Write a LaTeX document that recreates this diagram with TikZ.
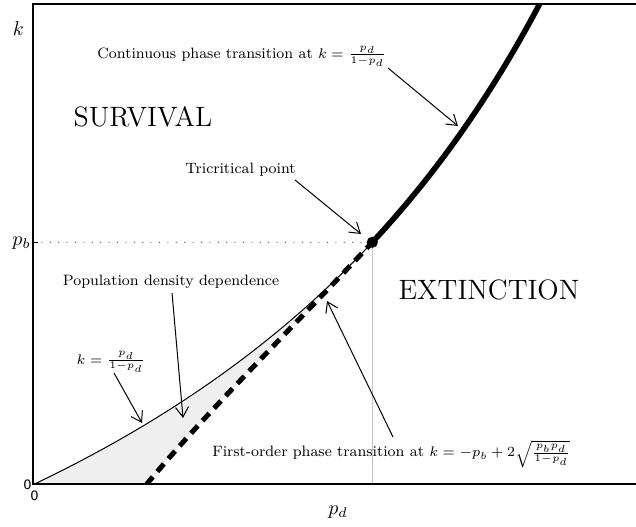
\documentclass[tikz,border=0pt]{standalone}
\usepackage{amsmath}
\usepackage{fontspec}
\newfontfamily\ticksans{DejaVu Sans}
\usepackage{tikz}
\usetikzlibrary{arrows.meta}
\definecolor{cFill}{HTML}{EFEFEF}
\definecolor{cGrid}{HTML}{C4C4C4}
\definecolor{cDot}{HTML}{444444}
\tikzset{
  spine/.style={line width=1pt},
  ann/.style={font=\fontsize{7.5}{9}\selectfont,inner sep=0pt},
  region/.style={font=\fontsize{14}{16.8}\selectfont,inner sep=0pt},
  axlbl/.style={font=\fontsize{10}{12}\selectfont,inner sep=0pt},
  ticklbl/.style={font=\ticksans\fontsize{6.5}{7.8}\selectfont,inner sep=0pt},
  pointer/.style={-{Straight Barb[length=5pt,width=6.5pt]},line width=0.5pt},
  contline/.style={line width=2.8pt},
  foline/.style={line width=2.5pt,dash pattern=on 5pt off 3.5pt},
  declare function={kc(\x)=\x/(1-\x); kf(\x)=-0.5+2*sqrt(0.5*\x/(1-\x));},
}

\begin{document}
\begin{tikzpicture}[x=508.2pt,y=242.2pt]
  \useasboundingbox (-0.03296,-0.08774) rectangle (0.5928,1.0002);
  % shaded band between the two lower curves
  \fill[cFill] plot[domain=0:0.33333,samples=60] (\x,{kc(\x)})
    -- plot[domain=0.33333:0.11111,samples=60] (\x,{kf(\x)}) -- cycle;
  \coordinate (tc) at (0.33333,0.5);
  \draw[cGrid,line width=0.5pt] (tc) -- (0.33333,0);
  \draw[cDot,line width=0.6pt,line cap=round,dash pattern=on 0pt off 4.2pt] (0,0.5) -- (tc);
  \draw[line width=0.5pt] (0,0.5) -- ++(2.5pt,0);
  \draw[line width=0.5pt] plot[domain=0:0.33333,samples=60] (\x,{kc(\x)});
  \begin{scope}
    \clip (0,0) rectangle (0.5928,0.9926);
    \draw[contline] plot[domain=0.33333:0.5,samples=60] (\x,{kc(\x)});
    \draw[foline] plot[domain=0.11111:0.33333,samples=60] (\x,{kf(\x)});
  \end{scope}
  \fill (tc) circle[radius=2.8pt];
  \draw[spine] (0.5928,0.9926) -- (0,0.9926) -- (0,0) -- (0.5928,0);

  \node[axlbl] (klab) at (-0.01476,0.9414) {$k$};
  \node[axlbl] (pdlab) at (0.2996,-0.0568) {$p_d$};
  \node[axlbl,anchor=east] (pblab) at (-0.0025,0.4985) {$p_b$};
  \node[ticklbl,anchor=east] (zy) at (-0.0015,-0.001) {0};
  \node[ticklbl] (zx) at (0.001,-0.0235) {0};

  \node[region] (surv) at (0.1077,0.7587) {SURVIVAL};
  \node[region] (ext) at (0.4481,0.4015) {EXTINCTION};
  \node[ann,anchor=base west] (lcont) at (0.0625,0.8799)
    {Continuous phase transition at $k=\frac{p_d}{1-p_d}$};
  \node[ann] (ltri) at (0.2037,0.6493) {Tricritical point};
  \node[ann] (lpop) at (0.1353,0.4180) {Population density dependence};
  \node[ann] (lspin) at (0.0762,0.2529) {$k=\frac{p_d}{1-p_d}$};
  \node[ann,anchor=base west] (lfirst) at (0.1756,0.0568)
    {First-order phase transition at $k=-p_b+2\sqrt{\frac{p_b p_d}{1-p_d}}$};

  \coordinate (contA) at (0.3488,0.8598);  \coordinate (contB) at (0.4176,0.7401);
  \coordinate (triA) at (0.2573,0.6286);   \coordinate (triB) at (0.3222,0.5171);
  \coordinate (popA) at (0.1363,0.3953);   \coordinate (popB) at (0.1471,0.1373);
  \coordinate (spinA) at (0.0792,0.2302);  \coordinate (spinB) at (0.1068,0.1270);
  \coordinate (firstA) at (0.3537,0.0981); \coordinate (firstB) at (0.2888,0.3788);
  \draw[pointer] (contA) -- (contB);
  \draw[pointer] (triA) -- (triB);
  \draw[pointer] (popA) -- (popB);
  \draw[pointer] (spinA) -- (spinB);
  \draw[pointer] (firstA) -- (firstB);
\end{tikzpicture}
\end{document}
